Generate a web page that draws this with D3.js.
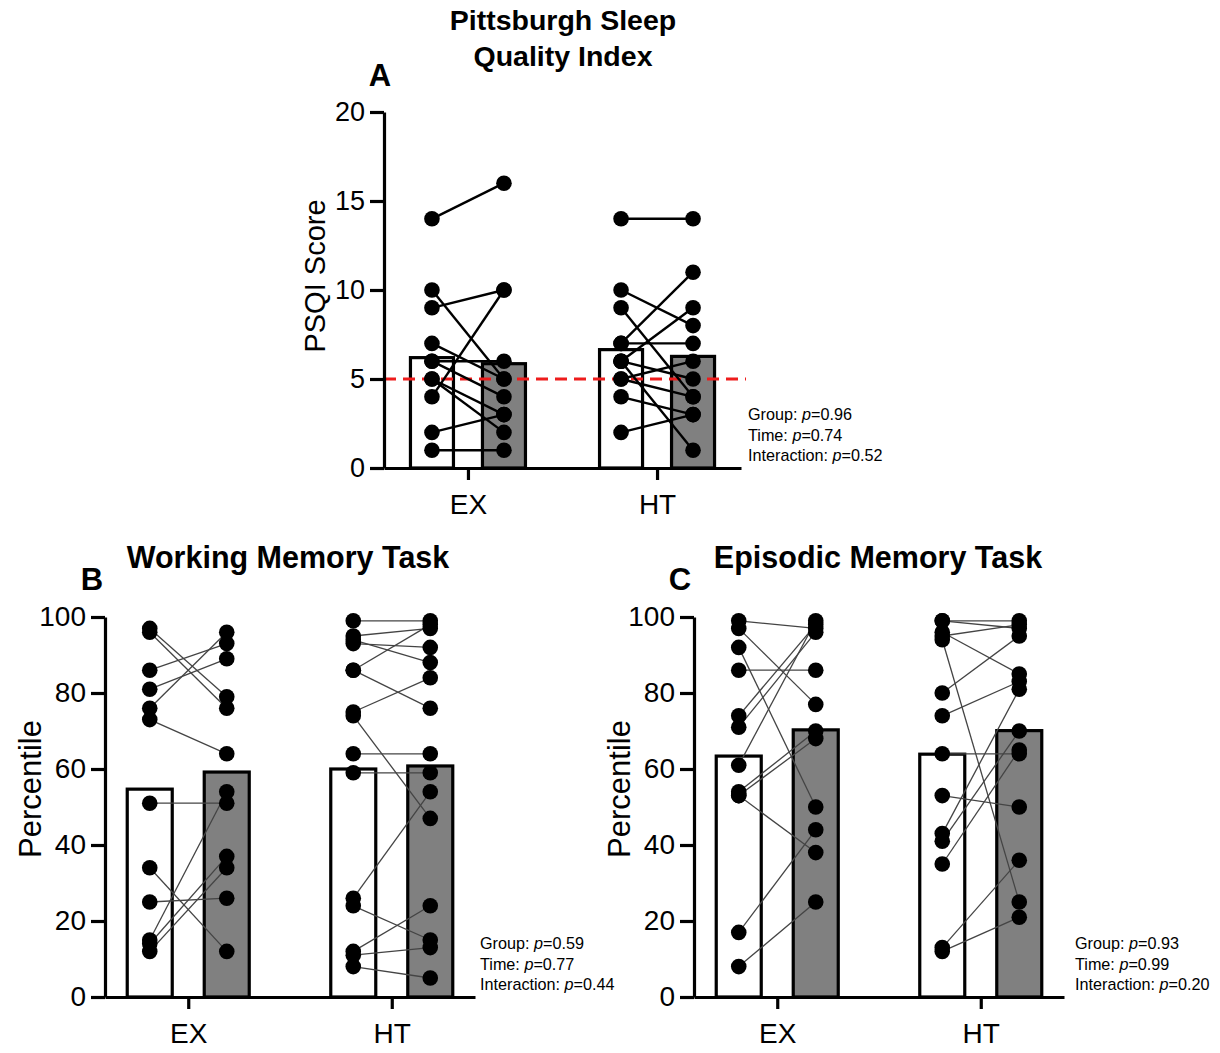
<!DOCTYPE html>
<html>
<head>
<meta charset="utf-8">
<script src="https://cdn.jsdelivr.net/npm/d3@7"></script>
<style>
  body { margin: 0; background: #fff; }
  svg { display: block; }
  text { font-family: Arial, "Liberation Sans", Helvetica, sans-serif; fill: #000; }
</style>
</head>
<body>
<svg id="chart" width="1220" height="1053"></svg>
<script>
// ---- data ----------------------------------------------------------
const groups = ["EX", "HT"];
const phases = ["pre", "post"];

const psqiTicks = [0, 5, 10, 15, 20];
const pctTicks = [0, 20, 40, 60, 80, 100];
const psqiCutoff = 5;

// PSQI score, paired by participant (index i in pre ↔ index i in post)
const psqiPreEX  = [14, 10, 9, 7, 6, 6, 5, 5, 4, 2, 1];
const psqiPostEX = [16, 5, 10, 5, 6, 4, 3, 2, 10, 3, 1];
const psqiPreHT  = [14, 10, 9, 7, 7, 6, 6, 6, 5, 5, 4, 2];
const psqiPostHT = [14, 8, 4, 11, 7, 9, 1, 5, 6, 4, 3, 3];
const psqiMeanEX = [6.2, 5.86];
const psqiMeanHT = [6.65, 6.27];

// Working memory percentile
const wmPreEX  = [97, 96, 86, 81, 76, 73, 51, 34, 25, 15, 14, 12];
const wmPostEX = [79, 76, 93, 89, 96, 64, 51, 12, 26, 54, 37, 34];
const wmPreHT  = [99, 95, 94, 93, 86, 86, 75, 74, 64, 59, 26, 24, 12, 11, 8];
const wmPostHT = [99, 97, 88, 92, 98, 76, 84, 47, 64, 59, 54, 15, 24, 13, 5];
const wmMeanEX = [54.7, 59.2];
const wmMeanHT = [60.0, 60.8];

// Episodic memory percentile
const epPreEX  = [99, 97, 92, 86, 74, 71, 61, 54, 53, 53, 17, 8];
const epPostEX = [97, 77, 50, 86, 98, 96, 99, 70, 68, 38, 44, 25];
const epPreHT  = [99, 99, 96, 95, 94, 80, 74, 64, 53, 43, 41, 35, 13, 12];
const epPostHT = [99, 97, 85, 98, 25, 95, 83, 64, 50, 81, 70, 65, 36, 21];
const epMeanEX = [63.4, 70.3];
const epMeanHT = [63.9, 70.1];

const psqiStats = [["Group: ", "0.96"], ["Time: ", "0.74"], ["Interaction: ", "0.52"]];
const wmStats   = [["Group: ", "0.59"], ["Time: ", "0.77"], ["Interaction: ", "0.44"]];
const epStats   = [["Group: ", "0.93"], ["Time: ", "0.99"], ["Interaction: ", "0.20"]];

// ---- drawing -------------------------------------------------------
const svg = d3.select("#chart");
const phaseFill = { pre: "#ffffff", post: "#808080" };
const FONT = 'Arial, "Liberation Sans", Helvetica, sans-serif';

function drawPanel(o) {
  const g = svg.append("g");
  const y = d3.scaleLinear().domain([0, o.yMax]).range([o.yBottom, o.yTop]);
  const x = d3.scalePoint().domain(groups).range([o.x0, o.x1]).padding(o.pad);
  const off = d3.scalePoint().domain(phases).range([-o.pairHalf, o.pairHalf]);

  // bars (group means)
  const bars = [];
  groups.forEach((grp, gi) => {
    phases.forEach((ph, pi) => bars.push({ grp, ph, v: o.means[gi][pi] }));
  });
  g.selectAll("rect.bar").data(bars).join("rect")
    .attr("class", "bar")
    .attr("x", d => x(d.grp) + off(d.ph) - o.barW / 2)
    .attr("width", o.barW)
    .attr("y", d => y(d.v))
    .attr("height", d => y(0) - y(d.v))
    .attr("fill", d => phaseFill[d.ph])
    .attr("stroke", "#000")
    .attr("stroke-width", 3.2);

  // reference cutoff
  if (o.cutoff != null) {
    g.append("line")
      .attr("x1", o.x0).attr("x2", o.x1 + 5)
      .attr("y1", y(o.cutoff)).attr("y2", y(o.cutoff))
      .attr("stroke", "#ee1c1c").attr("stroke-width", 3)
      .attr("stroke-dasharray", "12,7");
  }

  // paired lines
  const pairs = [];
  groups.forEach((grp, gi) => {
    const [pre, post] = o.series[gi];
    pre.forEach((v, i) => pairs.push({ grp, a: v, b: post[i] }));
  });
  g.selectAll("line.pair").data(pairs).join("line")
    .attr("class", "pair")
    .attr("x1", d => x(d.grp) + off("pre"))
    .attr("x2", d => x(d.grp) + off("post"))
    .attr("y1", d => y(d.a))
    .attr("y2", d => y(d.b))
    .attr("stroke", o.lineColor)
    .attr("stroke-width", o.lineW);

  // points
  const pts = [];
  groups.forEach((grp, gi) => {
    o.series[gi].forEach((arr, pi) => arr.forEach(v => pts.push({ grp, ph: phases[pi], v })));
  });
  g.selectAll("circle.pt").data(pts).join("circle")
    .attr("class", "pt")
    .attr("cx", d => x(d.grp) + off(d.ph))
    .attr("cy", d => y(d.v))
    .attr("r", 7.8)
    .attr("fill", "#000");

  // axes
  const yAxis = g.append("g").attr("transform", `translate(${o.x0},0)`)
    .call(d3.axisLeft(y).tickValues(o.ticks).tickSize(14).tickSizeOuter(0).tickPadding(5));
  const xAxis = g.append("g").attr("transform", `translate(0,${o.yBottom})`)
    .call(d3.axisBottom(x).tickSize(12).tickSizeOuter(0).tickPadding(14));
  [yAxis, xAxis].forEach(ax => {
    ax.select(".domain").attr("stroke-width", 3.2).attr("stroke", "#000");
    ax.selectAll(".tick line").attr("stroke-width", 3.2).attr("stroke", "#000");
    ax.selectAll(".tick text").attr("font-size", o.tickSize)
      .attr("font-family", FONT).attr("fill", "#000");
  });
  xAxis.selectAll(".tick text").attr("font-size", 28).attr("dy", "0.71em");

  // axis title
  g.append("text")
    .attr("transform", `translate(${o.yLabelX},${(o.yBottom + o.yTop) / 2 + o.yLabelShift}) rotate(-90)`)
    .attr("text-anchor", "middle")
    .attr("font-size", o.yLabelSize)
    .text(o.yLabel);

  // panel title and letter
  o.title.forEach((line, i) => {
    g.append("text")
      .attr("x", o.titleX).attr("y", o.titleY + i * 36)
      .attr("text-anchor", "middle")
      .attr("font-size", o.titleSize).attr("font-weight", "bold")
      .text(line);
  });
  g.append("text")
    .attr("x", o.letterX).attr("y", o.letterY)
    .attr("text-anchor", "middle")
    .attr("font-size", 31).attr("font-weight", "bold")
    .text(o.letter);

  // statistics
  o.stats.forEach((s, i) => {
    const t = g.append("text")
      .attr("x", o.statX).attr("y", o.statY + i * 20.5)
      .attr("font-size", 16.2);
    t.append("tspan").text(s[0]);
    t.append("tspan").attr("font-style", "italic").text("p");
    t.append("tspan").text("=" + s[1]);
  });
}

drawPanel({
  x0: 384, x1: 741, pad: 0.444, yBottom: 468, yTop: 112, yMax: 20,
  ticks: psqiTicks, tickSize: 27, pairHalf: 36, barW: 43,
  series: [[psqiPreEX, psqiPostEX], [psqiPreHT, psqiPostHT]],
  means: [psqiMeanEX, psqiMeanHT],
  cutoff: psqiCutoff,
  lineColor: "#000", lineW: 2.4,
  yLabel: "PSQI Score", yLabelX: 325, yLabelShift: -14, yLabelSize: 29,
  title: ["Pittsburgh Sleep", "Quality Index"], titleX: 563, titleY: 30, titleSize: 28.5,
  letter: "A", letterX: 380, letterY: 86,
  stats: psqiStats, statX: 748, statY: 420
});

drawPanel({
  x0: 105, x1: 475, pad: 0.409, yBottom: 997, yTop: 617, yMax: 100,
  ticks: pctTicks, tickSize: 28, pairHalf: 38.5, barW: 45,
  series: [[wmPreEX, wmPostEX], [wmPreHT, wmPostHT]],
  means: [wmMeanEX, wmMeanHT],
  cutoff: null,
  lineColor: "#444", lineW: 1.3,
  yLabel: "Percentile", yLabelX: 41, yLabelShift: -18, yLabelSize: 31,
  title: ["Working Memory Task"], titleX: 288, titleY: 568, titleSize: 30.5,
  letter: "B", letterX: 92, letterY: 590,
  stats: wmStats, statX: 480, statY: 949
});

drawPanel({
  x0: 694, x1: 1064, pad: 0.409, yBottom: 997, yTop: 617, yMax: 100,
  ticks: pctTicks, tickSize: 28, pairHalf: 38.5, barW: 45,
  series: [[epPreEX, epPostEX], [epPreHT, epPostHT]],
  means: [epMeanEX, epMeanHT],
  cutoff: null,
  lineColor: "#444", lineW: 1.3,
  yLabel: "Percentile", yLabelX: 630, yLabelShift: -18, yLabelSize: 31,
  title: ["Episodic Memory Task"], titleX: 878, titleY: 568, titleSize: 30.5,
  letter: "C", letterX: 680, letterY: 590,
  stats: epStats, statX: 1075, statY: 949
});
</script>
</body>
</html>
